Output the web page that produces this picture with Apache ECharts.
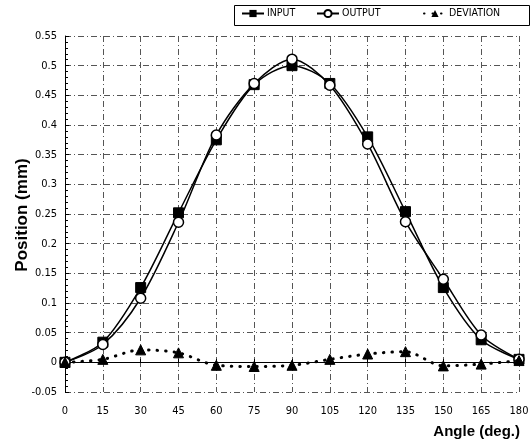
<!DOCTYPE html>
<html>
<head>
<meta charset="utf-8">
<script src="https://cdn.jsdelivr.net/npm/echarts@6/dist/echarts.min.js"></script>
<style>
  html, body { margin: 0; padding: 0; background: #fff; }
  #chart { width: 532px; height: 447px; }
</style>
</head>
<body>
<div id="chart"></div>
<script>
// Angle of the cam (deg.)
const angles = [0, 15, 30, 45, 60, 75, 90, 105, 120, 135, 150, 165, 180];
// Follower position (mm)
const inputPos = [0, 0.034, 0.126, 0.252, 0.375, 0.468, 0.500, 0.470, 0.380, 0.254, 0.126, 0.038, 0.005];
const outputPos = [0, 0.030, 0.108, 0.236, 0.383, 0.470, 0.511, 0.467, 0.368, 0.237, 0.140, 0.046, 0.005];
const deviation = [0, 0.005, 0.021, 0.016, -0.005, -0.007, -0.005, 0.005, 0.014, 0.018, -0.006, -0.003, 0.003];
const seriesNames = ['INPUT', 'OUTPUT', 'DEVIATION'];

const narrow = "'Liberation Sans Narrow', 'DejaVu Sans Condensed', 'Liberation Sans', sans-serif";
const bold = "'Liberation Sans', Arial, sans-serif";
const pairs = ys => angles.map((a, i) => [a, ys[i]]);
const gridLine = { show: true, lineStyle: { color: '#555', width: 1, type: [6, 3, 1, 3] } };

// one legend entry per series, laid out inside a shared frame
const legendLefts = [241, 316, 423];
const legends = seriesNames.map((n, i) => ({
  left: legendLefts[i], top: 8,
  padding: 0,
  itemWidth: 22, itemHeight: 9, itemGap: 0,
  textStyle: { fontFamily: narrow, fontSize: 10.5, color: '#000', padding: [0, 0, 0, -2] },
  data: [n]
}));

const chart = echarts.init(document.getElementById('chart'), null, { renderer: 'canvas' });
chart.setOption({
  animation: false,
  backgroundColor: '#fff',
  grid: { left: 65, right: 13, top: 36, bottom: 55, outerBoundsMode: 'none', containLabel: false },
  legend: legends,
  graphic: [
    {
      type: 'rect', left: 232, top: 3,
      shape: { width: 295, height: 20 },
      style: { fill: 'none', stroke: '#000', lineWidth: 1 },
      z: 0
    },
    {
      type: 'text', right: 12, top: 424,
      style: { text: 'Angle (deg.)', fontFamily: bold, fontWeight: 'bold', fontSize: 15, fill: '#000' }
    },
    {
      type: 'text', x: 22, y: 215, rotation: Math.PI / 2,
      style: {
        text: 'Position (mm)', fontFamily: bold, fontWeight: 'bold', fontSize: 17, fill: '#000',
        align: 'center', verticalAlign: 'middle'
      }
    }
  ],
  xAxis: {
    type: 'value', min: 0, max: 180, interval: 15,
    axisLine: { show: true, lineStyle: { color: '#000', width: 1 } },
    axisTick: { show: true, inside: true, length: 4, lineStyle: { color: '#000' } },
    axisLabel: { fontFamily: narrow, fontSize: 11, color: '#000', margin: 14 },
    splitLine: gridLine
  },
  yAxis: {
    type: 'value', min: -0.05, max: 0.55, interval: 0.05,
    axisLine: { show: true, lineStyle: { color: '#000', width: 1 } },
    axisTick: { show: true, inside: true, length: 4, lineStyle: { color: '#000' } },
    minorTick: { show: true, splitNumber: 5, length: 3, lineStyle: { color: '#000' } },
    axisLabel: {
      fontFamily: narrow, fontSize: 11, color: '#000', margin: 8,
      formatter: v => String(+v.toFixed(2))
    },
    splitLine: gridLine
  },
  series: [
    {
      name: seriesNames[0], type: 'line', smooth: 0.3,
      data: pairs(inputPos),
      symbol: 'rect', symbolSize: 10,
      itemStyle: { color: '#000', borderColor: '#000' },
      lineStyle: { color: '#000', width: 1.5 },
      z: 3
    },
    {
      name: seriesNames[1], type: 'line', smooth: 0.3,
      data: pairs(outputPos),
      symbol: 'circle', symbolSize: 10,
      itemStyle: { color: '#fff', borderColor: '#000', borderWidth: 1.5 },
      lineStyle: { color: '#000', width: 1.5 },
      z: 4
    },
    {
      name: seriesNames[2], type: 'line', smooth: 0.3,
      data: pairs(deviation),
      symbol: 'triangle', symbolSize: 10,
      itemStyle: { color: '#000', borderColor: '#000' },
      lineStyle: { color: '#000', width: 3, type: [0.5, 8], cap: 'round' },
      z: 5
    }
  ]
});
</script>
</body>
</html>
